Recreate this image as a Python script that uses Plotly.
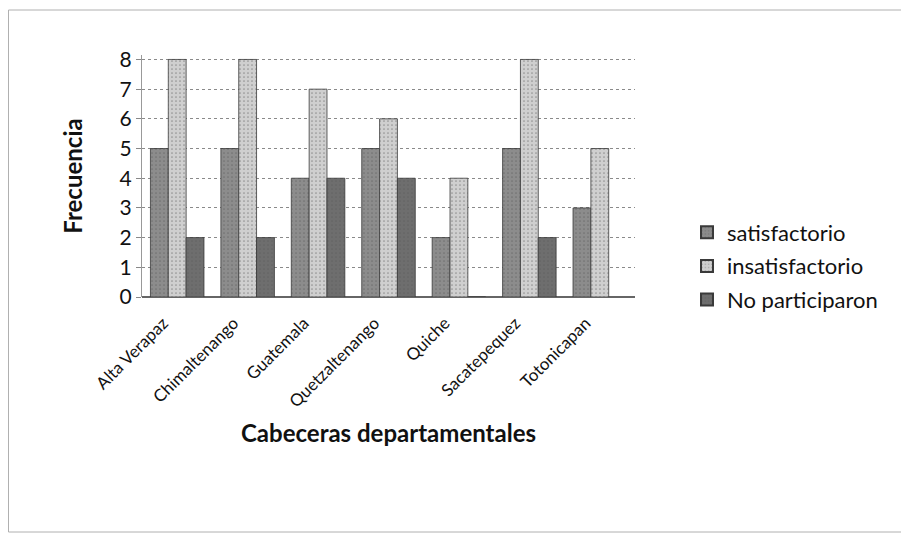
import plotly.graph_objects as go

categories = ["Alta Verapaz", "Chimaltenango", "Guatemala", "Quetzaltenango",
              "Quiche", "Sacatepequez", "Totonicapan"]
satisfactorio = [5, 5, 4, 5, 2, 5, 3]
insatisfactorio = [8, 8, 7, 6, 4, 8, 5]
no_participaron = [2, 2, 4, 4, 0, 2, None]
y_ticks = [0, 1, 2, 3, 4, 5, 6, 7, 8]

font_family = "Lato, 'Open Sans', sans-serif"

# page body has an 8px margin, so the figure is laid out 8px smaller
W, H = 901, 527
L, T = 134, 47
pw, ph = 493, 242
R, B = W - L - pw, H - T - ph

fig = go.Figure()
series = [
    ("satisfactorio", satisfactorio, "#8c8c8c"),
    ("insatisfactorio", insatisfactorio, "#cfcfcf"),
    ("No participaron", no_participaron, "#6e6e6e"),
]
for name, vals, col in series:
    fig.add_trace(go.Bar(
        x=categories, y=vals, name=name, legendgroup=name,
        marker=dict(color=col, line=dict(color="#3a3a3a", width=0.8),
                    pattern=dict(shape=".", fgcolor="#555555", size=4, solidity=0.15)),
    ))

fig.update_layout(
    width=W, height=H,
    paper_bgcolor="white", plot_bgcolor="white",
    barmode="group", bargap=0.24, bargroupgap=0.0,
    margin=dict(l=L, r=R, t=T, b=B, autoexpand=False),
    font=dict(family=font_family, color="#111111"),
    legend=dict(x=(679 - L) / pw, y=((T + ph) - 258) / ph, xanchor="left", yanchor="middle",
                font=dict(size=22, family=font_family),
                itemsizing="constant", tracegroupgap=2, traceorder="grouped"),
    shapes=[dict(type="rect", xref="paper", yref="paper",
                 x0=(0.5 - L) / pw, x1=(897 - L) / pw,
                 y0=((T + ph) - 524) / ph, y1=((T + ph) - 2) / ph,
                 line=dict(color="#b0b0b0", width=1), fillcolor="rgba(0,0,0,0)",
                 layer="below")],
)
fig.update_yaxes(
    automargin=False,
    range=[0, 8.15], tickvals=y_ticks,
    showgrid=True, gridcolor="#8a8a8a", griddash="dot", gridwidth=1,
    zeroline=True, zerolinecolor="#666666", zerolinewidth=1.5,
    ticks="outside", ticklen=5, tickcolor="#888888",
    showline=True, linecolor="#999999",
    tickfont=dict(size=21, family=font_family, color="#111111"),
    title=dict(text="<b>Frecuencia</b>", font=dict(size=24, family=font_family), standoff=30),
)
fig.update_xaxes(
    automargin=False,
    tickangle=-45, tickfont=dict(size=17, family=font_family, color="#111111"),
    ticklabelstandoff=12, ticklabelshift=-14,
    showline=False,
    title=dict(text="<b>Cabeceras departamentales</b>", font=dict(size=24, family=font_family), standoff=14),
)

fig.write_html("out.html")
